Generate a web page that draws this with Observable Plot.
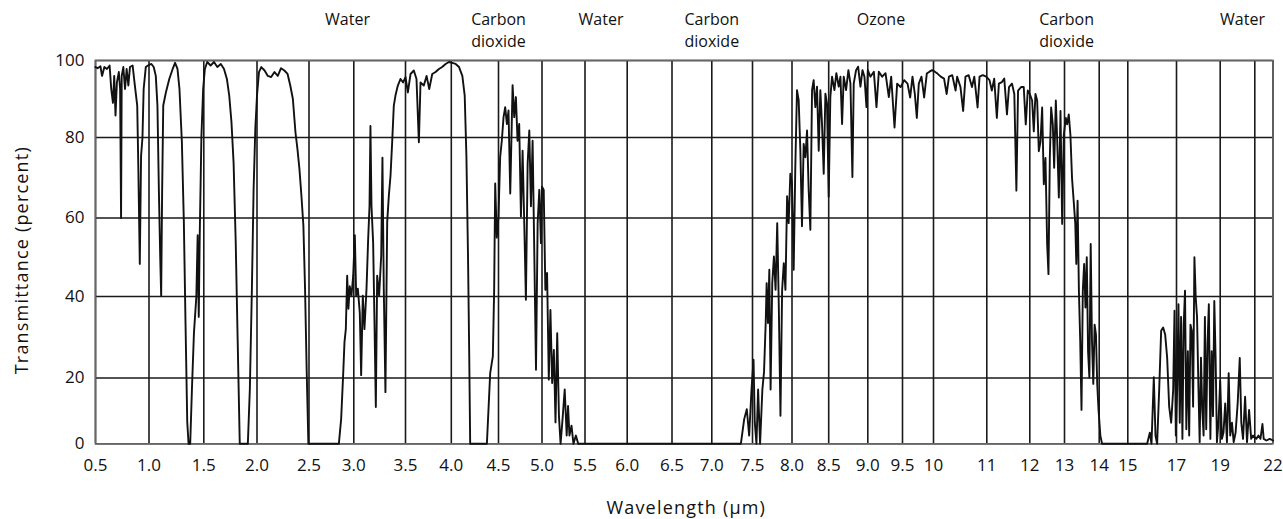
<!DOCTYPE html>
<html>
<head>
<meta charset="utf-8">
<script src="https://cdn.jsdelivr.net/npm/d3@7"></script>
<script src="https://cdn.jsdelivr.net/npm/@observablehq/plot@0.6"></script>
<style>
  html, body { margin: 0; padding: 0; background: #fff; }
  #chart { width: 1283px; height: 519px; }
</style>
</head>
<body>
<div id="chart"></div>
<script>
// ---- axis ticks ----
const xTicks = [0.5,1.0,1.5,2.0,2.5,3.0,3.5,4.0,4.5,5.0,5.5,6.0,6.5,7.0,7.5,8.0,8.5,9.0,9.5,10,11,12,13,14,15,17,19,22];
const xTickLabels = ["0.5","1.0","1.5","2.0","2.5","3.0","3.5","4.0","4.5","5.0","5.5","6.0","6.5","7.0","7.5","8.0","8.5","9.0","9.5","10","11","12","13","14","15","17","19","22"];
const xGrid = [0.5,1.0,1.5,2.0,2.5,3.0,3.5,4.0,4.5,5.0,5.5,6.0,6.5,7.0,7.5,8.0,8.5,9.0,9.5,10,11,12,13,14,15,17,19,21,22];
const yTicks = [0, 20, 40, 60, 80, 100];
const yTickLabels = ["0", "20", "40", "60", "80", "100"];

// ---- absorber labels along the top ----
const absorberX = [2.93, 4.5, 5.69, 7.0, 9.19, 13.06, 20.29];
const absorberNames = ["Water", "Carbon\ndioxide", "Water", "Carbon\ndioxide", "Ozone", "Carbon\ndioxide", "Water"];

// ---- transmittance spectrum [wavelength µm, transmittance %] ----
const band0p5to1p0 = [
[0.50,98.3],[0.52,98],[0.546,98.5],[0.561,96],[0.583,98.3],[0.607,97.8],[0.632,98.7],[0.647,92.6],
[0.663,89],[0.675,96],[0.687,85.7],[0.70,94.3],[0.718,97],[0.73,92.6],[0.739,60],[0.745,96],
[0.76,98.3],[0.776,92.6],[0.791,97.8],[0.807,93.5],[0.822,98.3],[0.847,98.7],[0.868,93.5],[0.89,88.3],
[0.90,73],[0.914,48.3],[0.926,75.5],[0.939,80],[0.95,92.6],[0.97,98.3],[0.99,98.7]];
const band1p0to2p0 = [
[1.022,99.1],[1.043,98.3],[1.062,96],[1.077,88.3],[1.09,67],[1.102,50.4],[1.111,40.2],[1.12,67],
[1.13,88.3],[1.154,91.7],[1.185,95.2],[1.216,97.8],[1.238,99.4],[1.26,97.8],[1.278,92.6],[1.30,78.8],
[1.318,59],[1.333,33.7],[1.349,6.6],[1.361,0],[1.376,0],[1.392,16.8],[1.41,31],[1.432,40],
[1.444,55.6],[1.454,35],[1.463,55.6],[1.478,80],[1.494,92.6],[1.51,97.8],[1.532,99.6],[1.564,98.7],
[1.596,99.6],[1.627,98.3],[1.66,99.1],[1.69,97.8],[1.717,95.2],[1.739,90.9],[1.76,84],[1.78,73.7],
[1.80,53.8],[1.818,29.6],[1.838,0],[1.914,0],[1.933,16.8],[1.952,42],[1.968,67],[1.984,82.2]];
const band2p0to2p9 = [
[2.0,90.9],[2.019,97],[2.041,98.3],[2.073,97.4],[2.104,96],[2.136,95.7],[2.168,97],[2.2,96],
[2.231,98],[2.263,97.4],[2.294,96.5],[2.32,93.5],[2.345,90],[2.37,81.3],[2.389,77.1],[2.408,72.2],
[2.427,65.6],[2.446,58.1],[2.462,42],[2.478,21.5],[2.494,0],[2.833,0]];
const band2p9to4p2 = [
[2.859,7.6],[2.881,20.7],[2.896,28.8],[2.911,32],[2.926,45.3],[2.94,37],[2.955,42.6],[2.974,40.2],
[2.993,45.3],[3.01,55.6],[3.023,40.2],[3.039,42],[3.058,36],[3.071,20.7],[3.087,40.2],[3.103,32],
[3.123,42],[3.139,54.7],[3.152,63],[3.161,83],[3.171,63],[3.187,53.8],[3.2,33.7],[3.213,11.2],
[3.226,45.3],[3.245,40.2],[3.265,50.4],[3.277,75],[3.29,42],[3.306,15.7],[3.323,59],[3.339,65.6],
[3.355,70.5],[3.371,78.8],[3.387,88.3],[3.403,90.9],[3.426,93.5],[3.452,95.2],[3.477,94.3],[3.5,95.7],
[3.526,91.7],[3.555,96.5],[3.591,97.4],[3.62,95.2],[3.646,78.8],[3.664,94.3],[3.7,93.5],[3.73,96],
[3.759,92.6],[3.792,96.5],[3.828,97],[3.865,97.8],[3.9,98.3],[3.938,99.1],[3.974,99.6],[4.01,99.4],
[4.046,99.1],[4.082,98.3],[4.117,96],[4.142,90.9],[4.16,75.5],[4.177,50.4],[4.19,25.5],[4.2,0]];
const band4p2to7p4 = [
[4.377,0],[4.412,21.2],[4.44,25.3],[4.454,41.7],[4.465,68.6],[4.482,55],[4.5,60.4],[4.519,75.1],
[4.538,79.2],[4.558,85.3],[4.577,87.9],[4.596,83.5],[4.615,87],[4.635,66.1],[4.662,93.6],[4.681,85.3],
[4.7,90.5],[4.719,79.2],[4.738,83.5],[4.758,60.4],[4.777,76.7],[4.796,58.7],[4.815,39.2],[4.835,73.5],
[4.854,81.8],[4.873,62.9],[4.892,79.2],[4.912,50.2],[4.931,22],[4.95,58.7],[4.969,67],[4.988,53.6],
[5.0,67.8],[5.02,67],[5.039,41.7],[5.059,46],[5.079,19.5],[5.098,36.7],[5.118,18.5],[5.138,26.9],
[5.157,6.5],[5.177,31],[5.197,8.5],[5.216,0],[5.236,6.5],[5.264,16.5],[5.287,2.5],[5.303,11.5],
[5.319,2.5],[5.343,5.5],[5.366,0],[5.394,2.5],[5.421,0],[7.357,0]];
const band7p4to9p5 = [
[7.398,7.5],[7.43,10.5],[7.459,2.5],[7.488,16.5],[7.513,24.5],[7.529,6.5],[7.55,0],[7.571,16.5],
[7.596,0],[7.625,16.5],[7.646,21.5],[7.667,33.5],[7.679,43.4],[7.696,33.5],[7.713,46.8],[7.729,16.5],
[7.75,43.4],[7.771,50.2],[7.792,41.7],[7.813,58.7],[7.833,37.6],[7.854,8.5],[7.875,41.7],[7.896,48.5],
[7.917,41.7],[7.938,65.4],[7.958,58.7],[7.979,71],[8.0,68.6],[8.023,46.8],[8.045,72.7],[8.068,92.3],
[8.091,89.7],[8.114,76.7],[8.136,57.9],[8.159,78.4],[8.182,75.1],[8.205,81.8],[8.227,67],[8.25,57],
[8.273,92.3],[8.295,94.9],[8.318,87.9],[8.341,93.2],[8.364,76.7],[8.386,92.3],[8.409,83.5],[8.432,71],
[8.455,91.4],[8.477,88.8],[8.5,65.3],[8.521,90.5],[8.543,95.8],[8.573,92.3],[8.598,96.7],[8.628,93.2],
[8.65,95.8],[8.671,83.5],[8.692,95.8],[8.722,92.3],[8.752,97.5],[8.778,94],[8.803,70.2],[8.82,94],
[8.85,97.5],[8.876,98.4],[8.906,93.2],[8.932,97.5],[8.957,95.8],[8.983,87.9],[9.0,97.5],[9.038,95.8],
[9.087,97.1],[9.125,87.9],[9.159,97.1],[9.207,95.8],[9.255,96.7],[9.303,90.5],[9.337,95.8],[9.385,82.6],
[9.423,94],[9.473,93.1]];
const band9p5to12 = [
[9.527,94.9],[9.581,94],[9.624,90.4],[9.661,95.8],[9.699,91.3],[9.731,85.1],[9.763,94],[9.806,95.8],
[9.849,90.4],[9.892,96.6],[9.935,97.1],[9.978,97.5],[10.025,97.1],[10.074,96.6],[10.136,95.8],[10.198,95.3],
[10.247,91.3],[10.29,95.8],[10.352,96.2],[10.414,92.2],[10.444,95.8],[10.506,93.1],[10.556,86.9],[10.6,95.8],
[10.66,96.2],[10.722,93.1],[10.765,95.8],[10.827,87.8],[10.864,95.8],[10.926,96.2],[10.988,95.8],[11.063,94.9],
[11.117,92.2],[11.172,95.3],[11.234,85.1],[11.281,94],[11.352,94.4],[11.406,95.3],[11.469,86],[11.516,93.1],
[11.586,94],[11.64,91.3],[11.688,66.8],[11.727,92.2],[11.797,93.1],[11.859,93.1],[11.906,83.4],[11.953,92.2]];
const band12to15 = [
[12.0,91.3],[12.067,89.6],[12.115,81.6],[12.163,91.3],[12.212,89.6],[12.26,76.6],[12.308,79],[12.356,87.8],
[12.404,68.4],[12.452,74.9],[12.5,53.4],[12.538,45.7],[12.577,74.9],[12.615,87.8],[12.663,83.4],[12.702,72.5],
[12.75,89.6],[12.788,79.8],[12.837,65.1],[12.885,86.9],[12.933,58.5],[12.98,80.7],[13.038,85.1],[13.075,83.4],
[13.123,86],[13.17,80.7],[13.217,69.9],[13.264,64.3],[13.311,58.5],[13.34,48.3],[13.377,64.3],[13.415,41.5],
[13.453,29.1],[13.49,10.3],[13.528,41.5],[13.566,48.3],[13.604,37.3],[13.642,50],[13.679,26.6],[13.717,20.1],
[13.755,53.4],[13.792,29.1],[13.83,18.2],[13.868,33.1],[13.906,30.7],[13.943,18.2],[13.981,10.3],[14.04,2.5],
[14.1,0],[15.795,0]];
const band15to22 = [
[15.904,3.4],[15.973,0],[16.068,20.2],[16.137,2.5],[16.205,0],[16.288,16.3],[16.37,31.6],[16.452,32.4],
[16.534,30.7],[16.616,25],[16.699,11.3],[16.781,6.4],[16.863,16.3],[16.918,36.5],[16.973,2.5],[17.03,16.3],
[17.09,38.1],[17.15,6.4],[17.21,35],[17.27,1.5],[17.33,33.1],[17.39,41.5],[17.45,4.4],[17.52,26.6],
[17.58,2.5],[17.64,33.1],[17.7,31.6],[17.76,11.3],[17.82,50],[17.88,39.7],[17.94,35],[18.0,18.2],
[18.06,0.5],[18.12,25],[18.18,10.3],[18.24,2.5],[18.3,35],[18.36,4.4],[18.42,28.3],[18.48,38.1],
[18.55,1.5],[18.61,26.6],[18.67,8.4],[18.73,38.9],[18.79,25],[18.85,0.5],[18.92,6.4],[19.0,19.2],
[19.1,1.5],[19.19,3.4],[19.29,12.3],[19.39,0.5],[19.49,21.2],[19.58,2.5],[19.68,6.4],[19.78,0.5],
[19.89,3.4],[20.01,12.3],[20.13,24.9],[20.22,6.4],[20.32,1.5],[20.44,14.3],[20.55,0.5],[20.67,10.3],
[20.79,1.5],[20.9,2.5],[21.09,1.5],[21.2,2.5],[21.31,1.5],[21.42,6],[21.49,1.5],[21.64,1],
[21.82,1.5],[22.0,1]];

const spectrum = [].concat(band0p5to1p0, band1p0to2p0, band2p0to2p9, band2p9to4p2,
  band4p2to7p4, band7p4to9p5, band9p5to12, band12to15, band15to22)
  .map(([w, t]) => ({w, t}));

const absorbers = absorberX.map((x, i) => ({x, name: absorberNames[i]}));
const xTickData = xTicks.map((v, i) => ({v, label: xTickLabels[i]}));
const yTickData = yTicks.map((v, i) => ({v, label: yTickLabels[i]}));

// The original's wavelength axis is non-uniform: piecewise-linear warp of the
// x scale (and the slightly uneven y grid), applied as Plot scale transforms.
const xBreakPx = [95,148.5,203.3,256.5,308.5,353.3,405,450.8,498,541.5,584.5,626.7,671.5,711.3,752,791.5,828.2,867.3,902,933,986.3,1029.3,1064,1098.7,1127.3,1176,1219.7,1254.3,1272.5];
const yBreakPx = [443.3,377.5,296,217.5,137,60];
const warpX = d3.scaleLinear().domain(xGrid).range(xBreakPx);
const warpY = d3.scaleLinear().domain(yTicks).range(yBreakPx);

const font = "'Open Sans', 'Noto Sans', sans-serif";

const chart = Plot.plot({
  width: 1283,
  height: 519,
  marginTop: 60,
  marginBottom: 519 - 443.3,
  marginLeft: 95,
  marginRight: 1283 - 1272.5,
  style: {fontFamily: font, fontSize: "17px", color: "#111", background: "#fff", overflow: "visible"},
  x: {type: "linear", transform: d => warpX(d), domain: [95, 1272.5], range: [95, 1272.5], axis: null},
  y: {type: "linear", transform: d => warpY(d), domain: [443.3, 60], range: [443.3, 60], axis: null},
  marks: [
    Plot.ruleX(xGrid, {stroke: "#1a1a1a", strokeWidth: 1.6}),
    Plot.ruleY(yTicks, {stroke: "#1a1a1a", strokeWidth: 1.6}),
    Plot.frame({stroke: "#666", strokeWidth: 1.6}),
    Plot.line(spectrum, {x: "w", y: "t", stroke: "#111", strokeWidth: 1.9, strokeLinejoin: "round"}),
    // tick labels (drawn as text through the warped scales)
    Plot.text(xTickData, {x: "v", text: "label", frameAnchor: "bottom", dy: 15, lineAnchor: "top", textAnchor: "middle", fontSize: 17, fill: "#111"}),
    Plot.text(yTickData, {y: "v", text: "label", frameAnchor: "left", dx: -11, lineAnchor: "middle", textAnchor: "end", fontSize: 17, fill: "#111"}),
    Plot.text(absorbers, {x: "x", frameAnchor: "top", text: "name", dy: -51, lineAnchor: "top", lineHeight: 1.37, textAnchor: "middle", fontSize: 16, fill: "#111"}),
    Plot.text(["Wavelength (µm)"], {frameAnchor: "bottom", dy: 64, dx: 2, lineAnchor: "middle", textAnchor: "middle", fontSize: 18, fill: "#111"}),
    Plot.text(["Transmittance (percent)"], {frameAnchor: "left", dx: -73, dy: 8, rotate: -90, lineAnchor: "middle", textAnchor: "middle", fontSize: 18, fill: "#111"})
  ]
});

d3.select(chart).selectAll("text")
  .filter(function() { return this.textContent === "Wavelength (µm)" || this.textContent === "Transmittance (percent)"; })
  .style("letter-spacing", "1.2px");

document.getElementById("chart").appendChild(chart);
</script>
</body>
</html>
